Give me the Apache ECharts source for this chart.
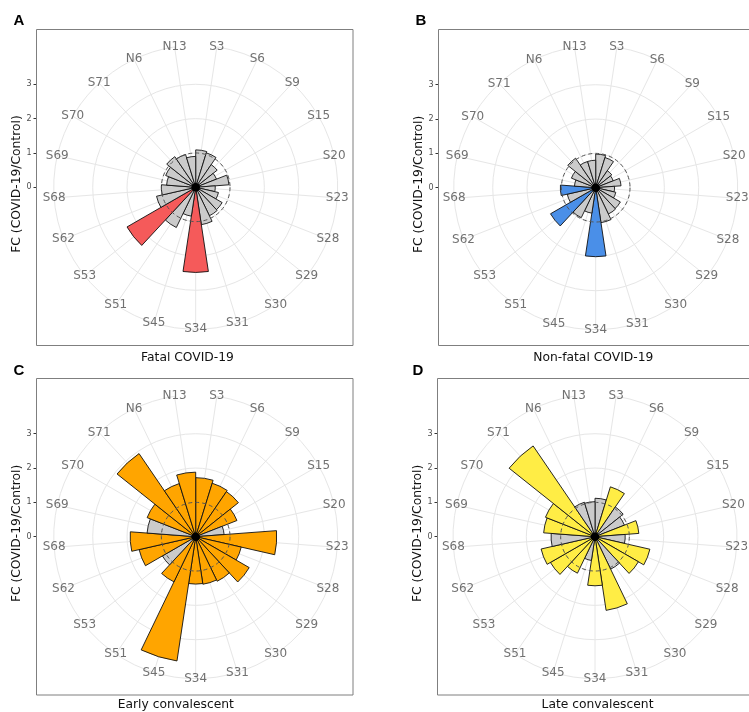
<!DOCTYPE html>
<html>
<head>
<meta charset="utf-8">
<script src="https://cdn.jsdelivr.net/npm/echarts@6/dist/echarts.min.js"></script>
<style>
html, body { margin: 0; padding: 0; background: #fff; }
#chart { width: 749px; height: 712px; }
</style>
</head>
<body>
<div id="chart"></div>
<script>
// categories, clockwise from the top
var sites = ['S3','S6','S9','S15','S20','S23','S28','S29','S30','S31','S34',
             'S45','S51','S53','S62','S68','S69','S70','S71','N6','N13'];

// FC (COVID-19/Control) per panel
var fatalFC    = [1.09,1.05,0.80,0.65,0.97,0.57,0.68,0.89,0.92,1.10,2.48,0.85,1.30,2.31,1.17,1.00,0.85,0.94,1.08,1.00,0.90];
var nonFatalFC = [0.98,0.92,0.60,0.55,0.74,0.55,0.60,0.83,0.85,1.03,2.01,0.75,0.97,1.52,0.85,1.03,0.62,0.76,1.04,0.80,0.80];
var earlyFC    = [1.72,1.63,1.59,1.29,0.83,2.36,1.36,1.80,1.44,1.40,1.38,3.66,1.46,1.12,1.69,1.91,1.42,1.52,2.93,1.62,1.88];
var lateFC     = [1.12,1.52,1.05,0.92,1.28,0.88,1.64,1.46,1.05,2.17,1.43,0.70,1.18,1.50,1.61,1.28,1.50,1.55,3.20,1.05,1.02];

// significant sites (coloured), the rest are grey
var fatalSig    = ['S34','S53'];
var nonFatalSig = ['S34','S53','S68'];
var earlySig    = ['S3','S6','S9','S15','S23','S28','S29','S30','S31','S34','S45','S51','S62','S68','S70','S71','N6','N13'];
var lateSig     = ['S6','S20','S28','S29','S31','S34','S51','S53','S62','S69','S70','S71'];

var yTicks = [0, 1, 2, 3];

var unit = 34.33;          // px per FC unit
var outerR = 142;          // outer ring radius, px
var rMax = outerR / unit;
var gridCol = '#e6e6e6';
var greyBar = '#cbcbcb';
var font = 'DejaVu Sans';

var panels = [
  {tag:'A', title:'Fatal COVID-19',     values:fatalFC,    sig:fatalSig,    color:'#f55a5a',
   box:[36.5,29.5,316.5,316], cx:195.7, cy:187.3, tagPos:[19,20.5],  titlePos:[187.5,357.7]},
  {tag:'B', title:'Non-fatal COVID-19', values:nonFatalFC, sig:nonFatalSig, color:'#4a8fe8',
   box:[438.5,29.5,316.5,316], cx:595.7, cy:187.7, tagPos:[421,20.5], titlePos:[593.3,357.7]},
  {tag:'C', title:'Early convalescent', values:earlyFC,    sig:earlySig,    color:'#ffa500',
   box:[36.5,378.5,316.5,316.5], cx:195.7, cy:536.7, tagPos:[19,370.5], titlePos:[175.8,705]},
  {tag:'D', title:'Late convalescent',  values:lateFC,     sig:lateSig,     color:'#ffed45',
   box:[437.5,378.5,316.5,316.5], cx:595, cy:536.7, tagPos:[418,370.5], titlePos:[597.5,705]}
];

var polar = [], angleAxis = [], radiusAxis = [], series = [];
var grid = [], xAxis = [], yAxis = [], graphic = [];

panels.forEach(function (p, k) {
  var base = 3 * k;
  // main polar: bars, spokes, outer ring
  polar.push({center:[p.cx, p.cy], radius: outerR});
  // grid rings at 1, 2, 3
  polar.push({center:[p.cx, p.cy], radius: 3 * unit});
  // dashed ring at FC = 1
  polar.push({center:[p.cx, p.cy], radius: unit});

  angleAxis.push({
    polarIndex: base, type:'category', data: sites, boundaryGap:false,
    startAngle: 90 - 180 / sites.length, clockwise:true, z:0,
    axisLine:{show:true, lineStyle:{color:gridCol, width:1}},
    axisTick:{show:false}, axisLabel:{show:false},
    splitLine:{show:true, lineStyle:{color:gridCol, width:1}}
  });
  angleAxis.push({polarIndex: base + 1, type:'value', min:0, max:360, show:false});
  angleAxis.push({
    polarIndex: base + 2, type:'value', min:0, max:360, z:5,
    axisLine:{show:true, lineStyle:{color:'#555', width:1, type:[4,3]}},
    axisTick:{show:false}, axisLabel:{show:false}, splitLine:{show:false}
  });

  radiusAxis.push({polarIndex: base, type:'value', min:0, max:rMax, show:false});
  radiusAxis.push({
    polarIndex: base + 1, type:'value', min:0, max:3, interval:1,
    axisLine:{show:false}, axisTick:{show:false}, axisLabel:{show:false},
    splitLine:{show:true, lineStyle:{color:gridCol, width:1}}
  });
  radiusAxis.push({polarIndex: base + 2, type:'value', min:0, max:1, show:false});

  series.push({
    type:'bar', coordinateSystem:'polar', polarIndex: base,
    barCategoryGap:'0%', z:2, silent:true,
    itemStyle:{borderColor:'#111', borderWidth:0.9},
    data: p.values.map(function (v, i) {
      return {value:v, itemStyle:{color: p.sig.indexOf(sites[i]) >= 0 ? p.color : greyBar}};
    })
  });

  // site labels sitting on the outer ring
  series.push({
    type:'scatter', coordinateSystem:'polar', polarIndex: base, z:4, silent:true,
    symbolSize:1, itemStyle:{color:'rgba(0,0,0,0)'},
    label:{show:true, position:'inside', color:'#4d4d4d', fontSize:12, fontFamily:font,
           formatter:function (q) { return sites[q.dataIndex]; }},
    data: sites.map(function (s) { return [rMax, s]; })
  });

  // left FC axis
  grid.push({left: p.box[0], top: p.cy - 3 * unit, width: 10, height: 3 * unit,
             outerBoundsMode:'none', containLabel:false});
  xAxis.push({gridIndex:k, type:'value', show:false});
  yAxis.push({
    gridIndex:k, type:'value', min:yTicks[0], max:yTicks[yTicks.length - 1], interval:1,
    axisLine:{show:false}, splitLine:{show:false},
    axisTick:{show:true, length:3, lineStyle:{color:'#333', width:1}},
    axisLabel:{fontSize:8, color:'#4d4d4d', margin:5, fontFamily:font}
  });

  graphic.push({
    type:'rect', silent:true, z:1,
    shape:{x:p.box[0], y:p.box[1], width:p.box[2], height:p.box[3]},
    style:{fill:'none', stroke:'#7f7f7f', lineWidth:1}
  });
  // dark hub where the bar outlines meet
  graphic.push({
    type:'circle', silent:true, z:100,
    shape:{cx:p.cx, cy:p.cy, r:4.3},
    style:{fill:'#000'}
  });
  graphic.push({
    type:'text', x:p.tagPos[0], y:p.tagPos[1], silent:true,
    style:{text:p.tag, fill:'#000', font:'bold 15px "Liberation Sans", Arial',
           textAlign:'center', textVerticalAlign:'middle'}
  });
  graphic.push({
    type:'text', x:p.titlePos[0], y:p.titlePos[1], silent:true,
    style:{text:p.title, fill:'#111', font:'12.3px "DejaVu Sans"',
           textAlign:'center', textVerticalAlign:'middle'}
  });
  graphic.push({
    type:'text', x:p.box[0] - 20, y:p.cy - 3.3, rotation:Math.PI / 2, silent:true,
    style:{text:'FC (COVID-19/Control)', fill:'#111', font:'12.3px "DejaVu Sans"',
           textAlign:'center', textVerticalAlign:'middle'}
  });
});

var chart = echarts.init(document.getElementById('chart'), null, {renderer:'canvas'});
chart.setOption({
  animation:false,
  backgroundColor:'#fff',
  polar: polar,
  angleAxis: angleAxis,
  radiusAxis: radiusAxis,
  grid: grid,
  xAxis: xAxis,
  yAxis: yAxis,
  series: series,
  graphic: graphic
});
</script>
</body>
</html>
